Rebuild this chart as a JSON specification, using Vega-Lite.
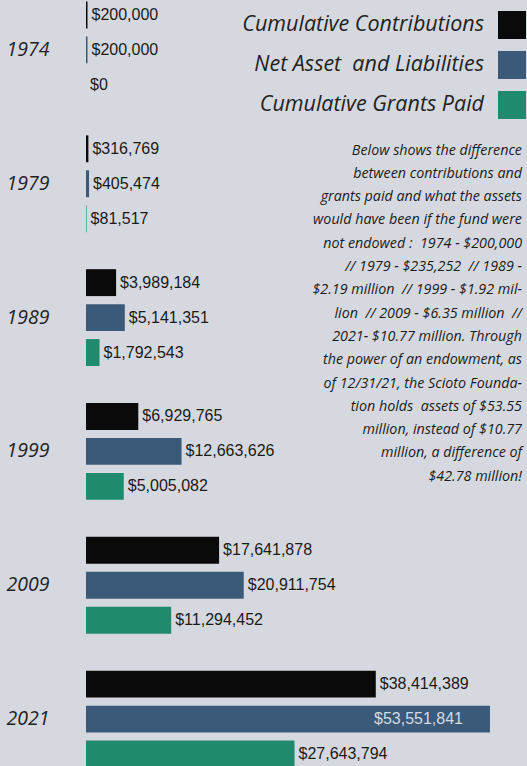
{
  "$schema": "https://vega.github.io/schema/vega-lite/v6.json",
  "autosize": "none",
  "width": 441,
  "height": 766,
  "padding": {"left": 86, "top": 0, "right": 0, "bottom": 0},
  "background": "#d5d9df",
  "config": {"view": {"stroke": null}},
  "title": {
    "text": [
      "Below shows the difference",
      "between contributions and",
      "grants paid and what the assets",
      "would have been if the fund were",
      "not endowed :\u00a0 1974 - $200,000",
      "// 1979 - $235,252\u00a0 // 1989 -",
      "$2.19 million\u00a0 // 1999 - $1.92 mil-",
      "lion\u00a0 // 2009 - $6.35 million\u00a0 //",
      "2021- $10.77 million. Through",
      "the power of an endowment, as",
      "of 12/31/21, the Scioto Founda-",
      "tion holds\u00a0 assets of $53.55",
      "million, instead of $10.77",
      "million, a difference of",
      "$42.78 million!"
    ],
    "anchor": "end",
    "frame": "group",
    "orient": "top",
    "baseline": "top",
    "offset": -484,
    "dx": -5,
    "lineHeight": 23.3,
    "font": "Open Sans",
    "fontSize": 14.3,
    "fontStyle": "italic",
    "fontWeight": 500,
    "color": "#1c1c1c"
  },
  "data": {
    "values": [
      {"year": "1974", "series": "Cumulative Contributions", "value": 200000},
      {"year": "1974", "series": "Net Asset\u00a0 and Liabilities", "value": 200000},
      {"year": "1974", "series": "Cumulative Grants Paid", "value": 0},
      {"year": "1979", "series": "Cumulative Contributions", "value": 316769},
      {"year": "1979", "series": "Net Asset\u00a0 and Liabilities", "value": 405474},
      {"year": "1979", "series": "Cumulative Grants Paid", "value": 81517},
      {"year": "1989", "series": "Cumulative Contributions", "value": 3989184},
      {"year": "1989", "series": "Net Asset\u00a0 and Liabilities", "value": 5141351},
      {"year": "1989", "series": "Cumulative Grants Paid", "value": 1792543},
      {"year": "1999", "series": "Cumulative Contributions", "value": 6929765},
      {"year": "1999", "series": "Net Asset\u00a0 and Liabilities", "value": 12663626},
      {"year": "1999", "series": "Cumulative Grants Paid", "value": 5005082},
      {"year": "2009", "series": "Cumulative Contributions", "value": 17641878},
      {"year": "2009", "series": "Net Asset\u00a0 and Liabilities", "value": 20911754},
      {"year": "2009", "series": "Cumulative Grants Paid", "value": 11294452},
      {"year": "2021", "series": "Cumulative Contributions", "value": 38414389},
      {"year": "2021", "series": "Net Asset\u00a0 and Liabilities", "value": 53551841},
      {"year": "2021", "series": "Cumulative Grants Paid", "value": 27643794}
    ]
  },
  "encoding": {
    "y": {
      "field": "year",
      "type": "ordinal",
      "title": null,
      "scale": {"range": [-17, 786], "paddingInner": 0, "paddingOuter": 0},
      "axis": {
        "ticks": false,
        "domain": false,
        "labelAlign": "left",
        "labelPadding": 80,
        "labelFont": "Open Sans",
        "labelFontSize": 19.5,
        "labelFontStyle": "italic",
        "labelColor": "#222222"
      }
    },
    "yOffset": {
      "field": "series",
      "type": "nominal",
      "sort": ["Cumulative Contributions", "Net Asset\u00a0 and Liabilities", "Cumulative Grants Paid"],
      "scale": {"paddingInner": 0.23, "paddingOuter": 0.53}
    },
    "x": {
      "field": "value",
      "type": "quantitative",
      "scale": {"domain": [0, 58460000]},
      "axis": null
    }
  },
  "layer": [
    {
      "mark": {"type": "bar", "cornerRadius": 0},
      "encoding": {
        "color": {
          "field": "series",
          "type": "nominal",
          "sort": ["Cumulative Contributions", "Net Asset\u00a0 and Liabilities", "Cumulative Grants Paid"],
          "scale": {
            "domain": ["Cumulative Contributions", "Net Asset\u00a0 and Liabilities", "Cumulative Grants Paid"],
            "range": ["#0a0a0a", "#3b5a7a", "#1f8a6c"]
          },
          "legend": {
            "title": null,
            "orient": "none",
            "legendX": 412,
            "legendY": 11,
            "symbolType": "square",
            "symbolSize": 784,
            "symbolStrokeWidth": 0,
            "symbolOpacity": 1,
            "rowPadding": 12,
            "labelFont": "Open Sans",
            "labelFontSize": 21.5,
            "labelFontStyle": "italic",
            "labelColor": "#222222",
            "labelAlign": "right",
            "labelOffset": -42,
            "labelLimit": 0
          }
        }
      }
    },
    {
      "transform": [{"filter": "datum.value < 50000000"}],
      "mark": {"type": "text", "align": "left", "dx": 4, "font": "Liberation Sans", "fontSize": 16, "color": "#1a1a1a"},
      "encoding": {"text": {"field": "value", "type": "quantitative", "format": "$,.0f"}}
    },
    {
      "transform": [{"filter": "datum.value >= 50000000"}],
      "mark": {"type": "text", "align": "right", "dx": -27, "font": "Liberation Sans", "fontSize": 16, "color": "#d3dae4"},
      "encoding": {"text": {"field": "value", "type": "quantitative", "format": "$,.0f"}}
    }
  ]
}
